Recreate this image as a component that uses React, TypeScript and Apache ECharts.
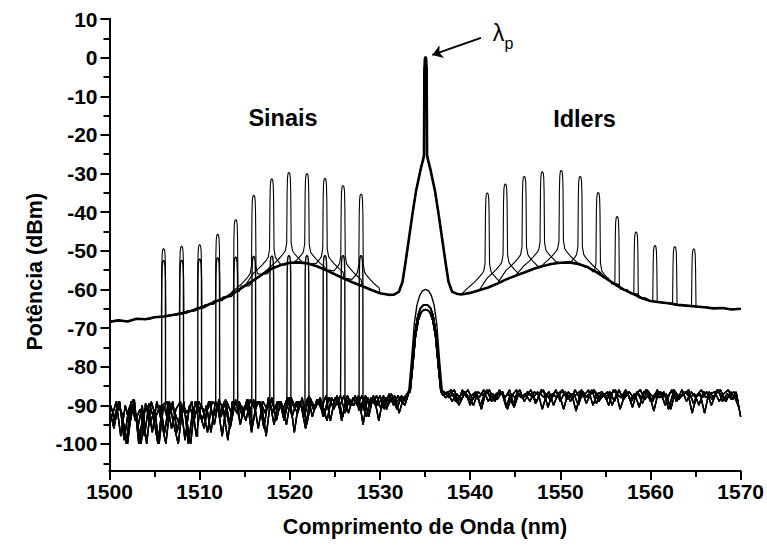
import React, { useEffect, useRef } from "react";
import * as echarts from "echarts";

type Pt = [number, number];

// ---------- data ----------
const xMin = 1500;
const xMax = 1570;
const yMin = -107;
const yMax = 10;
const yLabelMin = -100;
const yMinorMin = -105;

// signal wavelengths (nm) and peak powers (dBm) on the amplified traces
const signalNm = [1506.0, 1508.0, 1510.0, 1512.0, 1514.0, 1516.0, 1518.0, 1519.9, 1521.9, 1523.9, 1525.9, 1527.9];
const signalTopDb = [-49.4, -48.8, -48.4, -45.7, -41.9, -35.6, -31.4, -29.7, -30.0, -31.2, -33.1, -35.3];
// idler generated for each signal (same order as signals)
const idlerNm = [1564.8, 1562.7, 1560.5, 1558.4, 1556.3, 1554.2, 1552.2, 1550.1, 1548.0, 1546.0, 1543.9, 1541.9];
const idlerTopDb = [-49.5, -48.9, -48.6, -45.1, -41.1, -34.9, -30.7, -29.2, -29.5, -30.7, -32.7, -35.0];
// signal peak powers on the low (input) traces
const lowerSignalTopDb = [-52.5, -52.4, -52.1, -51.8, -51.6, -51.4, -51.3, -51.2, -51.2, -51.2, -51.2, -51.2];

// ASE background of the amplified traces, 1 nm grid
const aseLeftStartNm = 1500;
const aseLeftDb = [
  -68.4, -68.0, -68.3, -67.6, -67.7, -67.2, -67.0, -66.6, -66.2, -65.6,
  -64.8, -63.9, -62.9, -61.9, -60.6, -59.1, -57.6, -56.0, -54.6, -53.7,
  -53.1, -53.0, -53.3, -54.0, -55.0, -56.1, -57.2, -58.2, -59.1, -60.1,
  -61.0, -61.4,
];
const aseRightStartNm = 1539;
const aseRightDb = [
  -61.3, -60.9, -60.2, -59.5, -58.5, -57.4, -56.5, -55.6, -54.7, -54.0,
  -53.4, -53.1, -53.0, -53.4, -54.2, -55.5, -57.0, -58.6, -60.0, -61.1,
  -62.2, -63.0, -63.3, -63.6, -64.0, -64.2, -64.4, -64.6, -64.9, -64.8,
  -65.2, -65.0,
];
// pump on the amplified traces
const pumpUpper: Pt[] = [
  [1531.6, -61.3], [1532.1, -60.6], [1532.5, -58.0], [1532.8, -53.5], [1533.2, -47.0], [1533.6, -40.5],
  [1534.0, -34.5], [1534.5, -29.0], [1534.8, -26.2], [1534.88, -25.3], [1534.9, -15.0],
  [1534.93, -3.0], [1534.98, -0.3], [1535.05, 0.2], [1535.12, -0.3], [1535.17, -3.0],
  [1535.2, -15.0], [1535.22, -25.3], [1535.3, -26.2], [1535.6, -29.0], [1536.1, -34.5],
  [1536.5, -40.5], [1536.9, -47.0], [1537.3, -53.5], [1537.6, -58.0], [1538.0, -60.6], [1538.5, -61.1],
];
// peak shape: [offset nm, dB below the peak top]
const upperPeakProfile: Pt[] = [
  [-2.0, 24.3], [-1.5, 23.3], [-1.0, 22.1], [-0.6, 21.0], [-0.4, 20.3], [-0.25, 18.3],
  [-0.2, 5.0], [-0.16, 1.5], [-0.1, 0.3], [0, 0], [0.1, 0.3], [0.16, 1.5], [0.2, 5.0],
  [0.25, 18.3], [0.4, 20.3], [0.6, 21.0], [1.0, 22.1], [1.5, 23.3], [2.0, 24.3],
];
const lowerPeakProfile: Pt[] = [
  [-0.22, 60], [-0.2, 5.0], [-0.16, 1.5], [-0.1, 0.3], [0, 0], [0.1, 0.3], [0.16, 1.5], [0.2, 5.0], [0.22, 60],
];

// noise floor of the low traces (0.5 nm grids, four interleaved scans)
const noiseALeftStart = 1500.0;
const noiseALeft = [
  -91, -96, -89, -94, -100, -90, -93, -100, -89.5, -95,
  -91, -100, -90, -94, -89, -97, -90, -93, -100, -89,
  -92, -96, -89, -93, -90, -98, -89, -92, -88.5, -95,
  -90, -92, -88.5, -96, -89, -91, -88, -94, -89, -92,
  -88, -97, -89, -91, -88, -93, -88.5, -91, -87.5, -94,
  -88, -90.5, -87.5, -92, -88, -90, -87.5, -93, -88, -90,
  -87.5, -91, -87, -90, -87.5, -89.5, -87,
];
const noiseBLeftStart = 1500.25;
const noiseBLeft = [
  -93, -89, -98, -90, -95, -88.5, -100, -92, -90, -97,
  -89, -94, -100, -89.5, -92, -95, -89, -100, -91, -89,
  -94, -90, -97, -89, -92, -89, -95, -90, -89, -93,
  -88.5, -97, -90, -89, -92, -88.5, -95, -89, -91, -88,
  -93, -89, -90, -96, -88, -91, -88.5, -93, -88, -90,
  -87.5, -94, -88.5, -90, -87.5, -91, -88, -93, -87.5, -90,
  -88, -91, -87, -89.5, -88, -90,
];
const noiseCLeftStart = 1500.125;
const noiseCLeft = [
  -90, -94, -89, -99, -91, -88.5, -96, -90, -100, -89,
  -93, -90, -97, -89, -95, -100, -90, -92, -89, -98,
  -90, -93, -89, -95, -88.5, -91, -99, -89, -92, -90,
  -94, -88.5, -91, -89, -96, -88, -92, -89, -90, -95,
  -88, -90.5, -89, -93, -87.5, -91, -89, -90, -94, -88,
  -90, -87.5, -92, -88.5, -90, -87.5, -95, -88, -89.5, -87.5,
  -91, -88, -89, -87.5, -92, -88,
];
const noiseDLeftStart = 1500.375;
const noiseDLeft = [
  -95, -90, -92, -100, -89, -94, -91, -98, -89.5, -93,
  -100, -90, -89, -96, -91, -89, -99, -90, -94, -89,
  -91, -97, -89, -90, -93, -88.5, -96, -90, -89, -92,
  -88.5, -95, -89, -90, -98, -88.5, -91, -89, -94, -88,
  -90, -92, -88, -95, -89, -90.5, -88, -92, -88, -91,
  -88, -93, -87.5, -90, -89, -91.5, -87.5, -90, -88, -94,
  -87.5, -90, -88, -91, -87.5, -89,
];
const noiseARightStart = 1537.0;
const noiseARight = [
  -87.5, -86.5, -89, -87, -88.5, -86.5, -90, -87, -88, -86,
  -89, -87, -88.5, -86.5, -90.5, -87, -88, -86, -89, -87,
  -88, -86.5, -91, -87, -88.5, -86, -89, -86.5, -88, -87,
  -90, -86.5, -88, -86, -89.5, -87, -88, -86.5, -89, -86,
  -88.5, -87, -90.5, -86.5, -88, -86, -89, -87, -88, -86.5,
  -91, -87, -88.5, -86, -89, -86.5, -88, -87, -92, -86.5,
  -88, -86, -89, -87, -88.5, -86.5, -93,
];
const noiseBRightStart = 1537.25;
const noiseBRight = [
  -88, -87, -86, -90, -87.5, -86, -88.5, -87, -91, -86.5,
  -87.5, -89, -86, -88, -87, -90, -86.5, -88, -87.5, -86,
  -89.5, -87, -88, -86.5, -90, -87, -86, -88.5, -87, -91.5,
  -86.5, -88, -87, -86, -89, -87.5, -86.5, -90, -87, -88,
  -86, -88.5, -87, -90.5, -86.5, -87.5, -89, -86, -88, -87,
  -91, -86.5, -88, -87, -86, -89.5, -87, -88, -86.5, -90,
  -87, -86, -88.5, -87.5, -86.5, -89,
];
const noiseCRightStart = 1537.125;
const noiseCRight = [
  -86.5, -88, -87, -89.5, -86, -88, -87.5, -86.5, -90, -87,
  -86, -88.5, -87, -86.5, -91, -87.5, -86, -88, -87, -89,
  -86.5, -87.5, -86, -90.5, -87, -88, -86.5, -87, -89, -86,
  -88, -87.5, -86, -90, -87, -86.5, -88.5, -87, -86, -91,
  -87.5, -86.5, -88, -87, -89.5, -86, -87.5, -88, -86.5, -90,
  -87, -86, -88.5, -87, -86.5, -92, -87.5, -86, -88, -87,
  -86.5, -89, -87, -86, -88.5, -87.5,
];
const noiseDRightStart = 1537.375;
const noiseDRight = [
  -87, -86, -89, -87.5, -86.5, -88, -90, -86.5, -87.5, -86,
  -89, -87, -86.5, -88, -86, -90.5, -87, -88, -86.5, -87.5,
  -89, -86, -87, -88.5, -86.5, -87, -91, -86.5, -88, -87,
  -86, -89.5, -87, -86.5, -88, -87, -90, -86, -87.5, -88,
  -86.5, -89, -87, -86, -88.5, -87, -91.5, -86.5, -87, -88,
  -86, -89, -87.5, -86.5, -88, -87, -90, -86.5, -87, -88.5,
  -86, -87.5, -89, -86.5, -88, -91,
];
// residual pump on the low traces
const lowerPumpA: Pt[] = [
  [1533.3, -86], [1533.6, -79], [1533.9, -71], [1534.2, -66.8], [1534.5, -64.8], [1534.8, -64.1],
  [1535.05, -64], [1535.3, -64.1], [1535.6, -64.8], [1535.9, -66.8], [1536.2, -71], [1536.5, -79], [1536.8, -86],
];
const lowerPumpC: Pt[] = [
  [1533.35, -86.5], [1533.65, -79.5], [1533.95, -72], [1534.25, -68], [1534.55, -66], [1534.8, -65.4],
  [1535.05, -65.2], [1535.3, -65.4], [1535.55, -66], [1535.85, -68], [1536.15, -72], [1536.45, -79.5], [1536.75, -86.5],
];
const lowerPumpThin: Pt[] = [
  [1533.2, -86], [1533.5, -78], [1533.8, -69], [1534.1, -64], [1534.4, -61.6], [1534.7, -60.4],
  [1535.05, -60], [1535.4, -60.4], [1535.7, -61.6], [1536.0, -64], [1536.3, -69], [1536.6, -78], [1536.9, -86],
];

// ---------- helpers ----------
const gridPts = (start: number, step: number, vals: number[]): Pt[] =>
  vals.map((v, i) => [+(start + i * step).toFixed(3), v]);

const nearestDb = (base: Pt[], x: number) => {
  let best = base[0];
  for (const p of base) if (Math.abs(p[0] - x) < Math.abs(best[0] - x)) best = p;
  return best[1];
};

const withPeak = (pts: Pt[], base: Pt[], c: number, top: number, profile: Pt[], halfW: number): Pt[] => {
  const kept = pts.filter((p) => Math.abs(p[0] - c) > halfW);
  const add: Pt[] = profile.map(([o, d]) => [c + o, Math.max(nearestDb(base, c + o), top - d)]);
  return [...kept, ...add].sort((a, b) => a[0] - b[0]);
};

const FONT = "'Liberation Sans', Arial, Helvetica, sans-serif";

// layout (pixels)
const W = 767;
const H = 546;
const G_LEFT = 109.5;
const G_RIGHT = 26;
const G_TOP = 19;
const G_BOTTOM = 75;

export default function App() {
  const ref = useRef<HTMLDivElement>(null);

  useEffect(() => {
    document.body.style.margin = "0";
    if (!ref.current) return;
    const chart = echarts.init(ref.current, undefined, { renderer: "svg" });

    const upperBase: Pt[] = [
      ...gridPts(aseLeftStartNm, 1, aseLeftDb),
      ...pumpUpper,
      ...gridPts(aseRightStartNm, 1, aseRightDb),
    ];

    const noiseSets: [Pt[], Pt[]][] = [
      [gridPts(noiseALeftStart, 0.5, noiseALeft), gridPts(noiseARightStart, 0.5, noiseARight)],
      [gridPts(noiseBLeftStart, 0.5, noiseBLeft), gridPts(noiseBRightStart, 0.5, noiseBRight)],
      [gridPts(noiseCLeftStart, 0.5, noiseCLeft), gridPts(noiseCRightStart, 0.5, noiseCRight)],
      [gridPts(noiseDLeftStart, 0.5, noiseDLeft), gridPts(noiseDRightStart, 0.5, noiseDRight)],
    ];

    const series: any[] = [];

    // low (input) traces
    signalNm.forEach((c, k) => {
      const [nl, nr] = noiseSets[k % 4];
      const bump = k === 0 ? lowerPumpThin : k % 2 ? lowerPumpA : lowerPumpC;
      const base: Pt[] = [...nl, ...bump, ...nr];
      const pts = withPeak(base, base, c, lowerSignalTopDb[k], lowerPeakProfile, 0.25);
      series.push({
        type: "line", data: pts, showSymbol: false, symbol: "none", silent: true,
        lineStyle: { color: "#000", width: 1.4 }, z: 2,
      });
    });

    // amplified traces (signal + idler each)
    signalNm.forEach((c, k) => {
      let pts = withPeak(upperBase, upperBase, c, signalTopDb[k], upperPeakProfile, 2.05);
      pts = withPeak(pts, upperBase, idlerNm[k], idlerTopDb[k], upperPeakProfile, 2.05);
      series.push({
        type: "line", data: pts, showSymbol: false, symbol: "none", silent: true,
        lineStyle: { color: "#000", width: 1.1 }, z: 3,
      });
    });

    // common ASE + pump drawn thick
    series.push({
      type: "line", data: upperBase, showSymbol: false, symbol: "none", silent: true,
      lineStyle: { color: "#000", width: 2.6 }, z: 4,
      markLine: {
        silent: true, symbol: ["none", "arrow"], symbolSize: 10,
        lineStyle: { color: "#000", width: 2, type: "solid" },
        label: { show: false },
        data: [[{ coord: [1541.2, 5.1] }, { coord: [1535.8, 0.7] }]],
      },
    });

    const tickLine = { color: "#000", width: 2 };
    const plotH = H - G_TOP - G_BOTTOM;
    const pxPerDb = plotH / (yMax - yMin);
    const bottomAt = (v: number) => H - (G_TOP + (yMax - v) * pxPerDb);

    chart.setOption({
      animation: false,
      backgroundColor: "#fff",
      grid: [
        { left: G_LEFT, right: G_RIGHT, top: G_TOP, bottom: G_BOTTOM },
        { left: G_LEFT, right: G_RIGHT, top: G_TOP, bottom: bottomAt(yLabelMin) },
        { left: G_LEFT, right: G_RIGHT, top: G_TOP, bottom: bottomAt(yMinorMin) },
      ],
      xAxis: [
        {
          gridIndex: 0, type: "value", min: xMin, max: xMax, interval: 10,
          axisLine: { show: true, onZero: false, lineStyle: tickLine },
          axisTick: { show: true, length: 9, lineStyle: tickLine },
          minorTick: { show: true, splitNumber: 2, length: 6, lineStyle: tickLine },
          splitLine: { show: false }, minorSplitLine: { show: false },
          axisLabel: {
            color: "#000", fontSize: 21, fontWeight: "bold", fontFamily: FONT, margin: 10,
            formatter: (v: number) => String(v),
          },
        },
        { gridIndex: 1, type: "value", min: 0, max: 1, show: false },
        { gridIndex: 2, type: "value", min: 0, max: 1, show: false },
      ],
      yAxis: [
        {
          gridIndex: 0, type: "value", min: yMin, max: yMax, position: "left",
          axisLine: { show: true, onZero: false, lineStyle: tickLine },
          axisTick: { show: false }, axisLabel: { show: false }, splitLine: { show: false },
        },
        {
          gridIndex: 2, type: "value", min: yMinorMin, max: yMax, interval: 5, position: "left",
          axisLine: { show: true, onZero: false, lineStyle: tickLine },
          axisTick: { show: true, length: 6, lineStyle: tickLine },
          axisLabel: { show: false },
          splitLine: { show: false },
        },
        {
          gridIndex: 1, type: "value", min: yLabelMin, max: yMax, interval: 10, position: "left",
          axisLine: { show: true, onZero: false, lineStyle: tickLine },
          axisTick: { show: true, length: 9, lineStyle: tickLine },
          axisLabel: { color: "#000", fontSize: 21, fontWeight: "bold", fontFamily: FONT, margin: 12 },
          splitLine: { show: false },
        },
      ],
      series,
      graphic: [
        { type: "text", x: 283, y: 118, style: { text: "Sinais", fontSize: 23.5, fontWeight: "bold", fontFamily: FONT, fill: "#000", align: "center", verticalAlign: "middle" } },
        { type: "text", x: 584.5, y: 119, style: { text: "Idlers", fontSize: 23.5, fontWeight: "bold", fontFamily: FONT, fill: "#000", align: "center", verticalAlign: "middle" } },
        { type: "text", x: 498.4, y: 33.4, style: { text: "λ", fontSize: 23, fontFamily: FONT, fill: "#000", align: "center", verticalAlign: "middle" } },
        { type: "text", x: 509, y: 43, style: { text: "p", fontSize: 16, fontFamily: FONT, fill: "#000", align: "center", verticalAlign: "middle" } },
        { type: "text", x: 34.7, y: 271.7, rotation: Math.PI / 2, style: { text: "Potência (dBm)", fontSize: 21.5, fontWeight: "bold", fontFamily: FONT, fill: "#000", align: "center", verticalAlign: "middle" } },
        { type: "text", x: 425, y: 527, style: { text: "Comprimento de Onda (nm)", fontSize: 21.5, fontWeight: "bold", fontFamily: FONT, fill: "#000", align: "center", verticalAlign: "middle" } },
      ],
    });

    return () => chart.dispose();
  }, []);

  return <div ref={ref} style={{ position: "absolute", left: 0, top: 0, width: W, height: H }} />;
}
